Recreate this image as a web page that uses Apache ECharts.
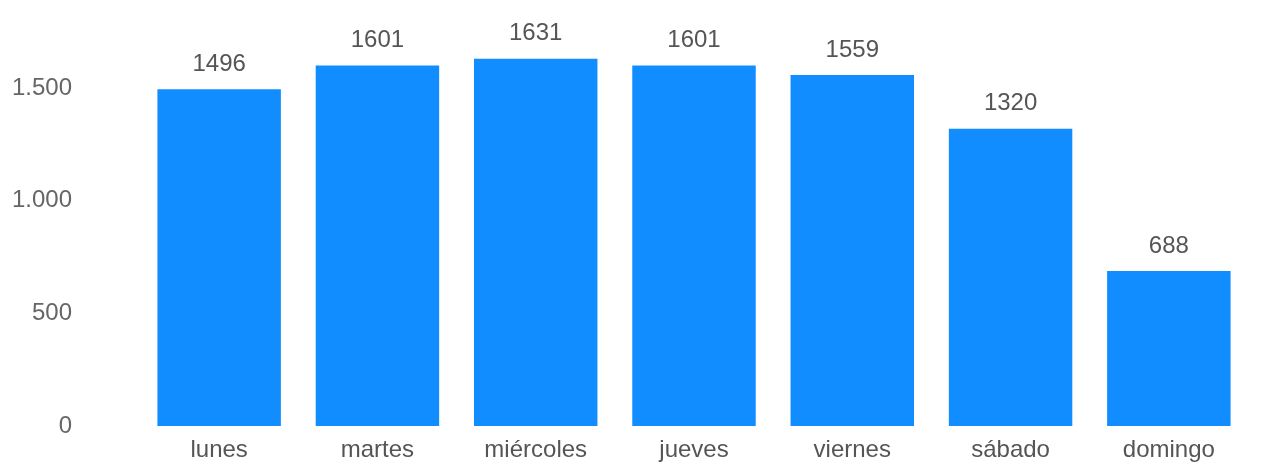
<!DOCTYPE html>
<html>
<head>
<meta charset="utf-8">
<script src="https://cdn.jsdelivr.net/npm/echarts@6/dist/echarts.min.js"></script>
<style>
html,body{margin:0;padding:0;background:#fff;}
#chart{width:1277px;height:467px;}
</style>
</head>
<body>
<div id="chart"></div>
<script>
const categories = ['lunes','martes','miércoles','jueves','viernes','sábado','domingo'];
const values = [1496, 1601, 1631, 1601, 1559, 1320, 688];
const yTicks = [0, 500, 1000, 1500];

const chart = echarts.init(document.getElementById('chart'), null, {renderer:'canvas'});
const fontFam = '"Liberation Sans", Arial, sans-serif';
chart.setOption({
  animation: false,
  grid: {left: 140, right: 29, top: 32, bottom: 41, containLabel: false},
  xAxis: {
    type: 'category',
    data: categories,
    axisLine: {show: false},
    axisTick: {show: false},
    axisLabel: {color: '#555', fontSize: 24, fontFamily: fontFam, margin: 12}
  },
  yAxis: {
    type: 'value',
    min: 0, max: 1750, interval: 500,
    splitLine: {show: false},
    axisLine: {show: false},
    axisTick: {show: false},
    axisLabel: {
      color: '#666', fontSize: 24, fontFamily: fontFam, margin: 68,
      formatter: v => yTicks.includes(v) ? String(v).replace(/\B(?=(\d{3})+(?!\d))/g, '.') : ''
    }
  },
  series: [{
    type: 'bar',
    data: values,
    barCategoryGap: '22%',
    itemStyle: {color: '#118DFF'},
    label: {show: true, position: 'top', distance: 13, color: '#555', fontSize: 24, fontFamily: fontFam}
  }]
});
</script>
</body>
</html>
